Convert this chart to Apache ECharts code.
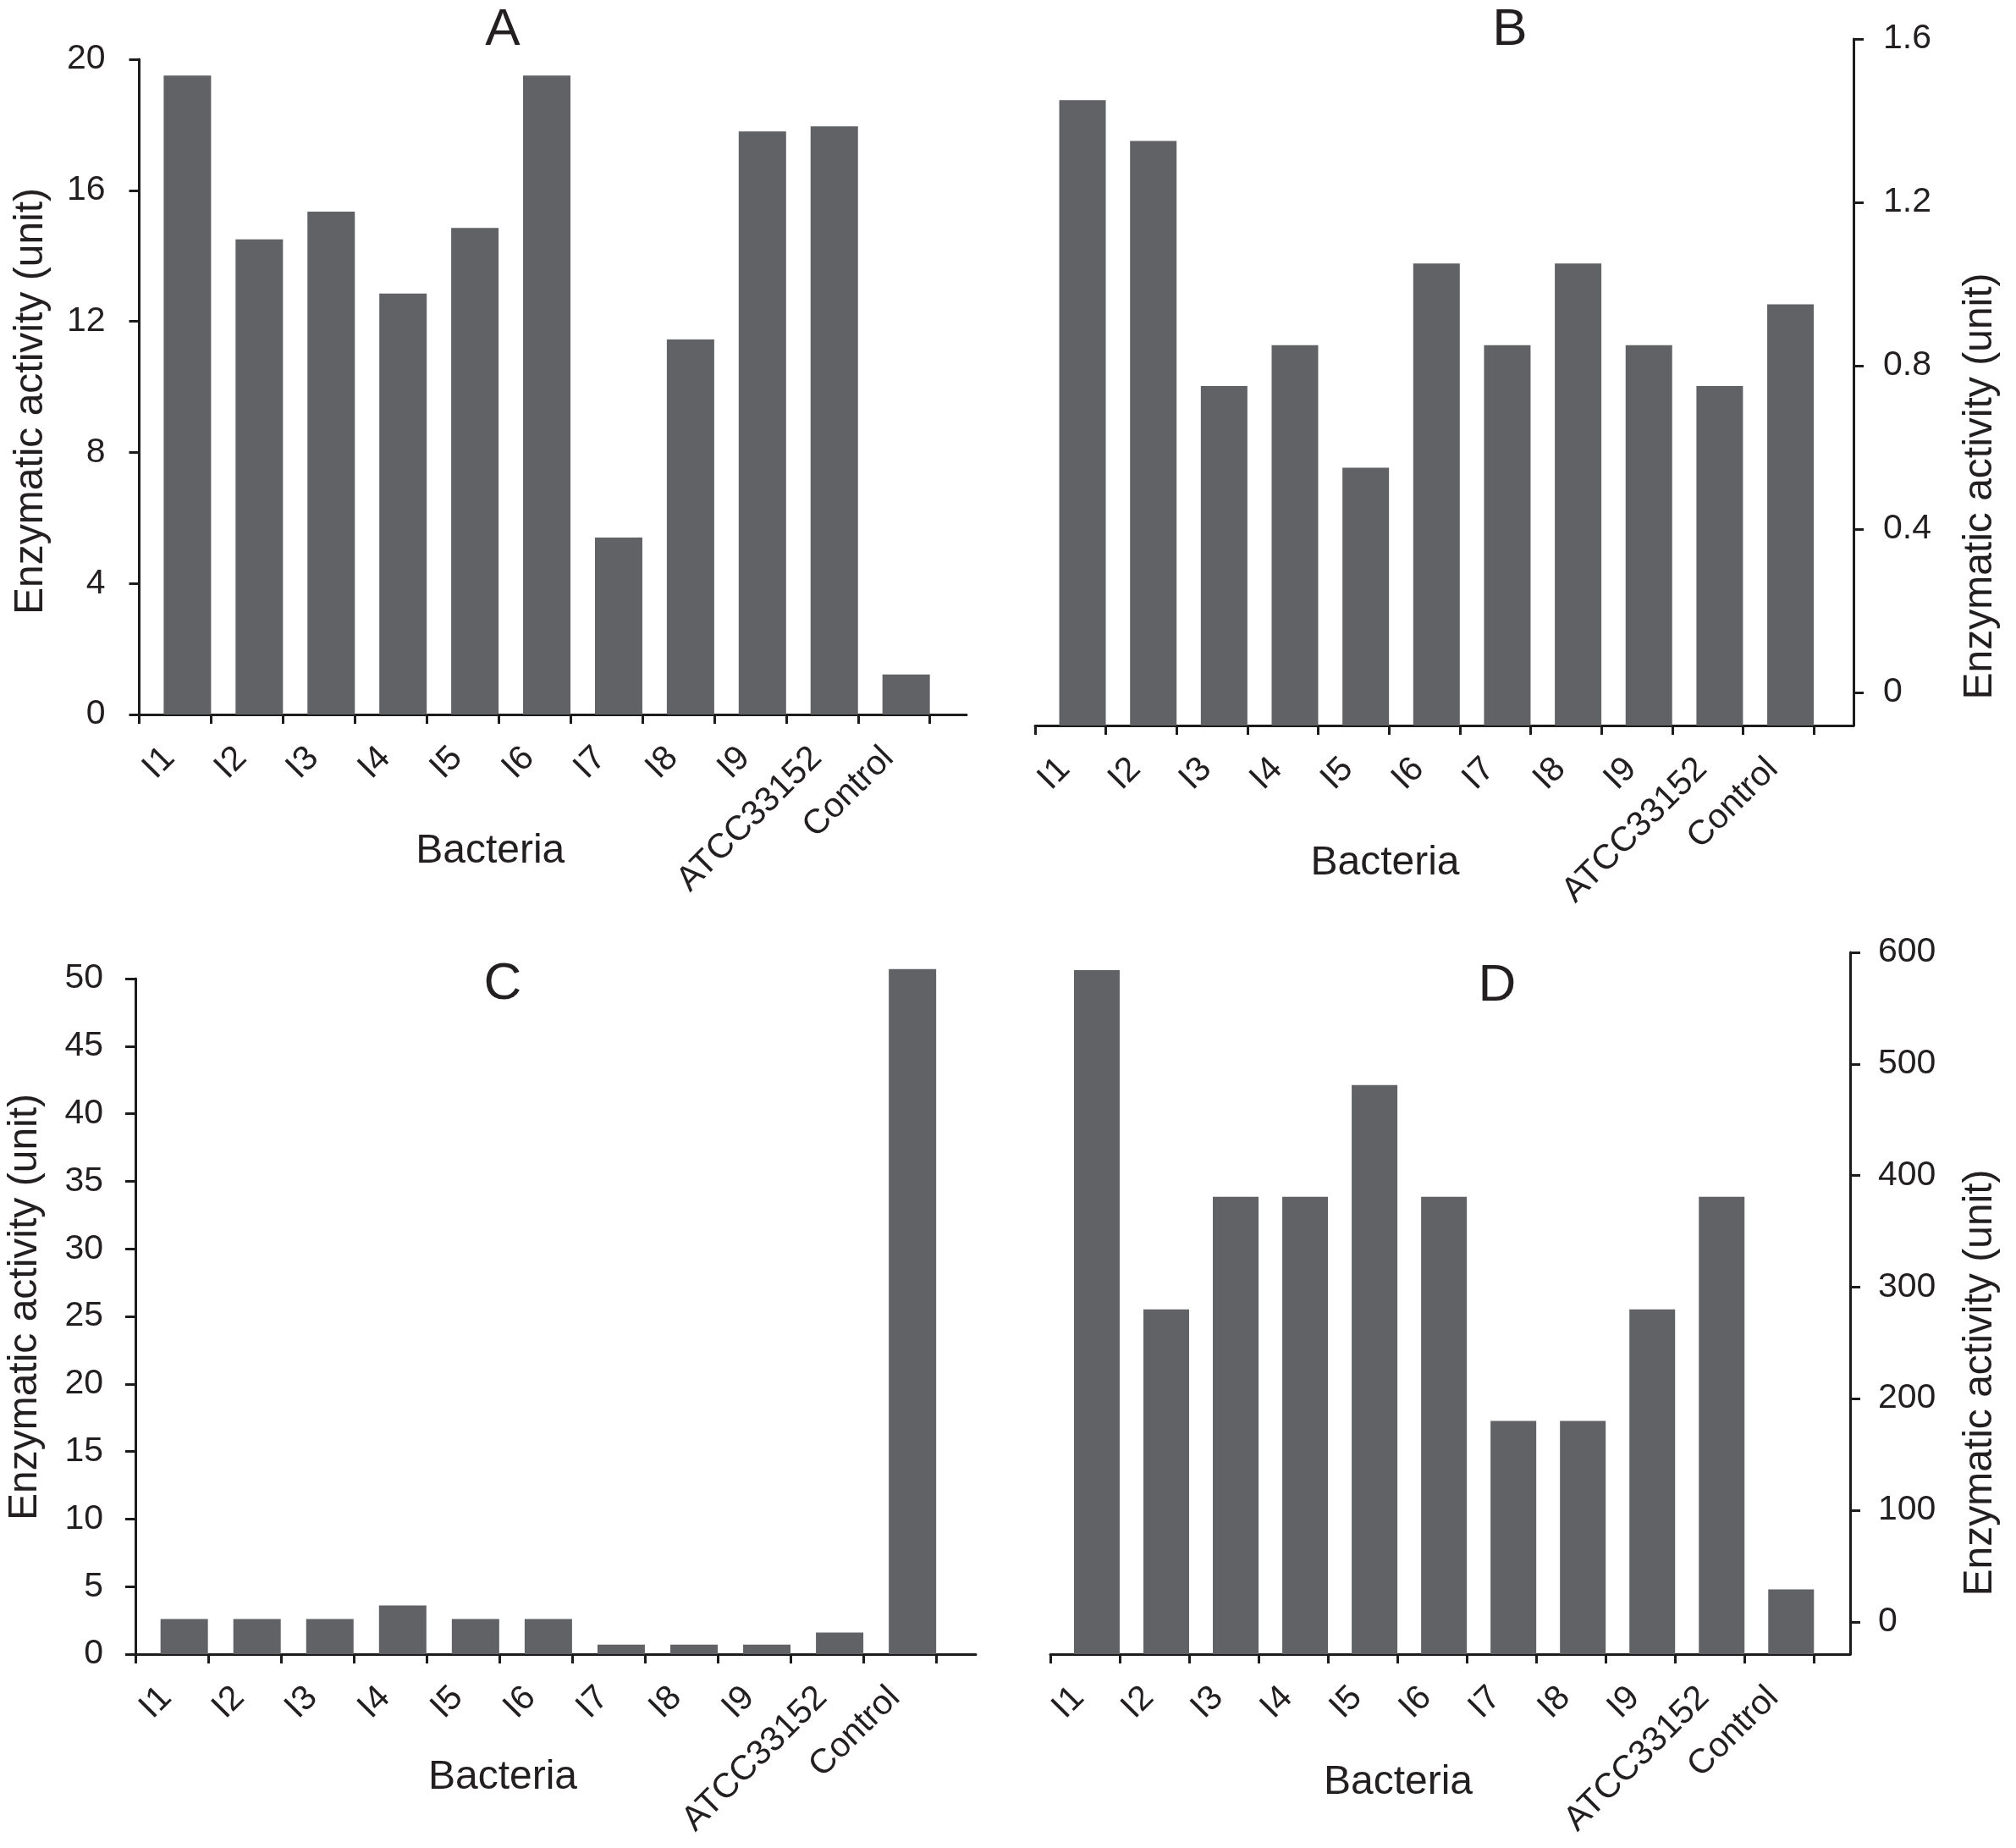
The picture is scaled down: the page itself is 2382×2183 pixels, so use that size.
<!DOCTYPE html>
<html>
<head>
<meta charset="utf-8">
<script src="https://cdn.jsdelivr.net/npm/echarts@6/dist/echarts.min.js"></script>
<style>
html,body{margin:0;padding:0;background:#fff;}
#chart{width:2382px;height:2183px;}
</style>
</head>
<body>
<div id="chart"></div>
<script>
// ---- data ----
const categories = ['I1','I2','I3','I4','I5','I6','I7','I8','I9','ATCC33152','Control'];
const valuesA = [19.5, 14.5, 15.35, 12.85, 14.85, 19.5, 5.4, 11.45, 17.8, 17.95, 1.22];
const valuesB = [1.45, 1.35, 0.75, 0.85, 0.55, 1.05, 0.85, 1.05, 0.85, 0.75, 0.95];
const valuesC = [2.6, 2.6, 2.6, 3.6, 2.6, 2.6, 0.7, 0.7, 0.7, 1.6, 50.7];
const valuesD = [584, 280, 381, 381, 481, 381, 180, 180, 280, 381, 29];
const ticksA = [0, 4, 8, 12, 16, 20];
const ticksB = [0, 0.4, 0.8, 1.2, 1.6];
const ticksC = [0, 5, 10, 15, 20, 25, 30, 35, 40, 45, 50];
const ticksD = [0, 100, 200, 300, 400, 500, 600];
const panelLetters = ['A', 'B', 'C', 'D'];
const xTitle = 'Bacteria';
const yTitle = 'Enzymatic activity (unit)';

// ---- layout / style ----
const FONT = 'Liberation Sans, Arial, Helvetica, sans-serif';
const TXT = '#231f20';
const BAR = '#616266';
const LINE = '#1c1c1c';

const panels = [
  { vals: valuesA, ticks: ticksA, side: 'left',
    grid: { left: 164.5, top: 70, width: 977.5, height: 774 },
    ymin: 0, ymax: 20, xmin: -0.67, xmax: 10.84,
    yLabelMargin: 40, yNameGap: 104, yNamePad: [0, 34, 0, 0],
    xNameGap: 138, xNamePad: [0, 148, 0, 0],
    letter: { x: 594, y: 38 } },
  { vals: valuesB, ticks: ticksB, side: 'right',
    grid: { left: 1223, top: 46, width: 967, height: 811 },
    ymin: -0.081, ymax: 1.6, xmin: -0.67, xmax: 10.89,
    yLabelMargin: 35, yNameGap: 126, yNamePad: [0, 246, 0, 0],
    xNameGap: 139, xNamePad: [0, 140, 0, 0],
    letter: { x: 1784, y: 38 } },
  { vals: valuesC, ticks: ticksC, side: 'left',
    grid: { left: 160, top: 1156, width: 993, height: 798 },
    ymin: 0, ymax: 50, xmin: -0.67, xmax: 10.87,
    yLabelMargin: 38, yNameGap: 106, yNamePad: [0, 0, 0, 22],
    xNameGap: 122, xNamePad: [0, 125, 0, 0],
    letter: { x: 594, y: 1165 } },
  { vals: valuesD, ticks: ticksD, side: 'right',
    grid: { left: 1241, top: 1125, width: 945, height: 829 },
    ymin: -29, ymax: 600, xmin: -0.67, xmax: 10.85,
    yLabelMargin: 33, yNameGap: 130, yNamePad: [0, 188, 0, 0],
    xNameGap: 128, xNamePad: [0, 123, 0, 0],
    letter: { x: 1769, y: 1167 } }
];

const grids = [], xAxes = [], yAxes = [], series = [], titles = [];
const catIdx = categories.map((c, i) => i);

panels.forEach((p, k) => {
  grids.push(Object.assign({ containLabel: false }, p.grid));
  const span = p.xmax - p.xmin;
  const spacing = p.grid.width / span;
  const xTicks = [];
  for (let t = 0; t <= categories.length; t++) xTicks.push(p.xmin + t);
  xAxes.push({
    type: 'value', gridIndex: k, min: p.xmin, max: p.xmax,
    name: xTitle, nameLocation: 'middle', nameGap: p.xNameGap, nameMoveOverlap: false,
    nameTextStyle: { fontFamily: FONT, fontSize: 48, color: TXT, padding: p.xNamePad },
    axisLine: { show: true, onZero: false, lineStyle: { color: LINE, width: 3 } },
    axisTick: { show: true, length: 11, customValues: xTicks, lineStyle: { color: LINE, width: 3 } },
    axisLabel: { show: true, customValues: catIdx, rotate: 45, margin: 24,
      padding: [0, 30, 0, 0],
      fontFamily: FONT, fontSize: 41, color: TXT,
      formatter: v => categories[Math.round(v)] },
    splitLine: { show: false }
  });
  yAxes.push({
    type: 'value', gridIndex: k, position: p.side, min: p.ymin, max: p.ymax,
    startValue: p.ymin,
    name: yTitle, nameLocation: 'middle', nameRotate: 90, nameGap: p.yNameGap, nameMoveOverlap: false,
    nameTextStyle: { fontFamily: FONT, fontSize: 48, color: TXT, padding: p.yNamePad },
    axisLine: { show: true, onZero: false, lineStyle: { color: LINE, width: 3 } },
    axisTick: { show: true, length: 12, customValues: p.ticks, lineStyle: { color: LINE, width: 3 } },
    axisLabel: { show: true, customValues: p.ticks, margin: p.yLabelMargin,
      fontFamily: FONT, fontSize: 41, color: TXT },
    splitLine: { show: false }
  });
  series.push({
    type: 'bar', xAxisIndex: k, yAxisIndex: k,
    barWidth: Math.round(spacing * 0.655),
    itemStyle: { color: BAR },
    clip: false,
    data: categories.map((c, i) => [i, p.vals[i]]),
    silent: true, animation: false
  });
  titles.push({
    text: panelLetters[k], left: p.letter.x, top: p.letter.y - 33, textAlign: 'center',
    padding: 0,
    textStyle: { fontFamily: FONT, fontSize: 62, fontWeight: 'normal', color: TXT }
  });
});

const chart = echarts.init(document.getElementById('chart'), null, { renderer: 'canvas' });
chart.setOption({
  backgroundColor: '#ffffff',
  animation: false,
  title: titles,
  grid: grids,
  xAxis: xAxes,
  yAxis: yAxes,
  series: series
});
</script>
</body>
</html>
